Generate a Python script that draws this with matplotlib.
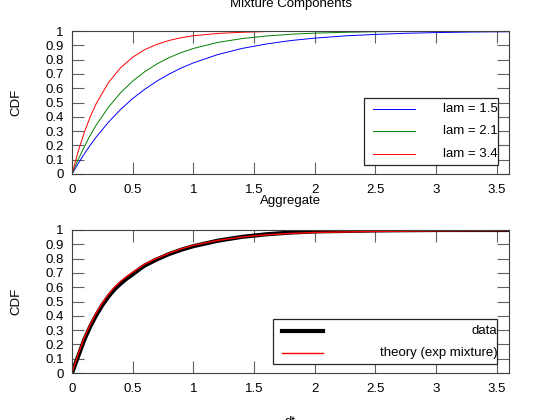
import matplotlib
matplotlib.use("Agg")
import matplotlib.pyplot as plt
from matplotlib.patches import Rectangle
from matplotlib.lines import Line2D

plt.rcParams['font.family'] = ['Liberation Sans', 'DejaVu Sans']

# ---- data ----
x_comp = [0, 0.05, 0.1, 0.15, 0.2, 0.3, 0.4, 0.5, 0.6, 0.7, 0.8, 0.9, 1.0,
          1.2, 1.4, 1.6, 1.8, 2.0, 2.25, 2.5, 2.75, 3.0, 3.3, 3.6]
cdf_lam15 = [0, 0.072, 0.139, 0.201, 0.259, 0.362, 0.451, 0.528, 0.593, 0.650,
             0.699, 0.741, 0.777, 0.835, 0.878, 0.909, 0.933, 0.950, 0.966,
             0.976, 0.984, 0.989, 0.993, 0.995]
cdf_lam21 = [0, 0.100, 0.189, 0.270, 0.343, 0.467, 0.568, 0.650, 0.716, 0.770,
             0.814, 0.849, 0.878, 0.920, 0.947, 0.965, 0.977, 0.985, 0.991,
             0.995, 0.997, 0.998, 0.999, 0.999]
cdf_lam34 = [0, 0.156, 0.288, 0.400, 0.493, 0.639, 0.743, 0.817, 0.870, 0.907,
             0.934, 0.953, 0.967, 0.983, 0.991, 0.996, 0.998, 0.999, 1.0,
             1.0, 1.0, 1.0, 1.0, 1.0]
comp_labels = ['lam = 1.5', 'lam = 2.1', 'lam = 3.4']

x_data = [0, 0.05, 0.1, 0.15, 0.2, 0.25, 0.3, 0.35, 0.4, 0.45, 0.5, 0.57, 0.6,
          0.7, 0.8, 0.9, 1.0, 1.2, 1.4, 1.6, 1.8, 2.0, 2.5, 3.0, 3.6]
cdf_data = [0, 0.115, 0.23, 0.325, 0.405, 0.475, 0.535, 0.585, 0.625, 0.66,
            0.69, 0.735, 0.752, 0.795, 0.832, 0.862, 0.887, 0.925, 0.952,
            0.97, 0.982, 0.99, 0.997, 1.0, 1.0]
x_theory = [0, 0.05, 0.1, 0.15, 0.2, 0.25, 0.3, 0.35, 0.4, 0.45, 0.5, 0.57,
            0.6, 0.7, 0.8, 0.9, 1.0, 1.2, 1.4, 1.6, 1.8, 2.0, 2.5, 3.0, 3.6]
cdf_theory = [0, 0.13, 0.245, 0.34, 0.42, 0.49, 0.55, 0.60, 0.64, 0.675,
              0.705, 0.745, 0.762, 0.803, 0.838, 0.868, 0.893, 0.927, 0.951,
              0.966, 0.976, 0.983, 0.99, 0.994, 0.996]
bottom_labels = ['data', 'theory (exp mixture)']

xticks = [0, 0.5, 1, 1.5, 2, 2.5, 3, 3.5]
yticks = [0, 0.1, 0.2, 0.3, 0.4, 0.5, 0.6, 0.7, 0.8, 0.9, 1]
xtick_labels = ['0', '0.5', '1', '1.5', '2', '2.5', '3', '3.5']
ytick_labels = ['0', '0.1', '0.2', '0.3', '0.4', '0.5', '0.6', '0.7', '0.8', '0.9', '1']

FS = 9.5
fig = plt.figure(figsize=(5.6, 4.2), dpi=100)
ax1 = fig.add_axes([72/560, (420-174)/420, 437/560, 143/420])
ax2 = fig.add_axes([72/560, (420-373)/420, 437/560, 143/420])


def style(ax):
    ax.set_xlim(0, 3.6)
    ax.set_ylim(0, 1)
    ax.set_xticks(xticks)
    ax.set_xticklabels(xtick_labels)
    ax.set_yticks(yticks)
    ax.set_yticklabels(ytick_labels)
    ax.tick_params(axis='both', direction='in', length=8.6, width=0.8,
                   color='#606060', labelsize=FS, top=True, right=True)
    ax.tick_params(axis='x', pad=7)
    ax.tick_params(axis='y', pad=6)
    for s in ax.spines.values():
        s.set_color('#404040')
        s.set_linewidth(0.8)


def manual_legend(ax, box, handles, labels, line_x, rows):
    ax.add_patch(Rectangle((box[0], box[1]), box[2] - box[0], box[3] - box[1],
                           transform=ax.transAxes, facecolor='white',
                           edgecolor='#262626', linewidth=0.9, zorder=5))
    for (c, lw), lab, yr in zip(handles, labels, rows):
        ax.add_line(Line2D(line_x, [yr, yr], transform=ax.transAxes,
                           color=c, linewidth=lw, zorder=6))
        ax.text(box[2], yr, lab, transform=ax.transAxes, ha='right',
                va='center', fontsize=FS, zorder=6)


# ---- top ----
style(ax1)
ax1.plot(x_comp, cdf_lam15, color='#0000ff', linewidth=0.7)
ax1.plot(x_comp, cdf_lam21, color='#008000', linewidth=0.7)
ax1.plot(x_comp, cdf_lam34, color='#ff0000', linewidth=0.7)
ax1.set_title('Mixture Components', fontsize=FS, pad=17)
ax1.set_ylabel('CDF', fontsize=FS)
ax1.yaxis.set_label_coords(-0.114, 0.5)
ax1.set_xlabel('Aggregate', fontsize=FS)
ax1.xaxis.set_label_coords(0.5, -0.19)
ax1.xaxis.label.set_va('center')
manual_legend(ax1, (0.668, 0.063, 0.975, 0.531),
              [('#0000ff', 0.7), ('#008000', 0.7), ('#ff0000', 0.7)],
              comp_labels, [0.689, 0.785], [0.455, 0.30, 0.14])

# ---- bottom ----
style(ax2)
ax2.plot(x_data, cdf_data, color='black', linewidth=3.0)
ax2.plot(x_theory, cdf_theory, color='#ff0000', linewidth=1.0)
ax2.set_ylabel('CDF', fontsize=FS)
ax2.yaxis.set_label_coords(-0.114, 0.5)
ax2.set_xlabel('dt', fontsize=FS)
ax2.xaxis.set_label_coords(0.5, -0.34)
ax2.xaxis.label.set_va('center')
manual_legend(ax2, (0.46, 0.0625, 0.973, 0.375),
              [('black', 3.0), ('#ff0000', 1.0)],
              bottom_labels, [0.481, 0.574], [0.292, 0.139])

fig.savefig('out.png', dpi=100)
